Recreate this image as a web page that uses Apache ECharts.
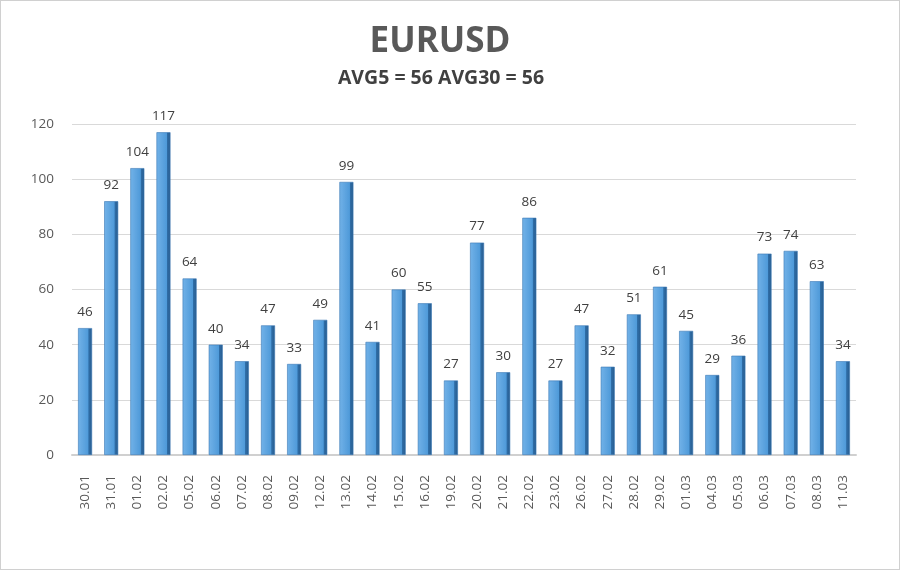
<!DOCTYPE html>
<html>
<head>
<meta charset="utf-8">
<script src="https://cdn.jsdelivr.net/npm/echarts@6/dist/echarts.min.js"></script>
<style>
html,body{margin:0;padding:0;background:#fff;}
#c{width:898px;height:568px;border:1px solid #d0d0d0;}
</style>
</head>
<body>
<div id="c"></div>
<script>
const categories = ['30.01','31.01','01.02','02.02','05.02','06.02','07.02','08.02','09.02','12.02','13.02','14.02','15.02','16.02','19.02','20.02','21.02','22.02','23.02','26.02','27.02','28.02','29.02','01.03','04.03','05.03','06.03','07.03','08.03','11.03'];
const values = [46,92,104,117,64,40,34,47,33,49,99,41,60,55,27,77,30,86,27,47,32,51,61,45,29,36,73,74,63,34];
const titleText = 'EURUSD';
const subtitleText = 'AVG5 = 56 AVG30 = 56';

const chart = echarts.init(document.getElementById('c'));
chart.setOption({
  backgroundColor: '#fff',
  animation: false,
  title: [{
    text: titleText,
    left: 434,
    textAlign: 'center',
    top: 19,
    textStyle: {fontFamily: 'Open Sans', fontSize: 35, fontWeight: 'bold', color: '#595959'}
  }, {
    text: subtitleText,
    left: 435,
    textAlign: 'center',
    top: 62,
    textStyle: {fontFamily: 'Open Sans', fontSize: 19.5, fontWeight: 'bold', color: '#404040'}
  }],
  grid: {left: 71, right: 43, top: 123, bottom: 114},
  xAxis: {
    type: 'category',
    data: categories,
    axisTick: {show: false},
    axisLine: {lineStyle: {color: '#d0d0d0', width: 2}},
    axisLabel: {rotate: 90, margin: 20, fontFamily: 'Open Sans', fontSize: 13.5, color: '#595959'}
  },
  yAxis: {
    type: 'value',
    min: 0, max: 120, interval: 20,
    axisLine: {show: false},
    axisTick: {show: false},
    splitLine: {lineStyle: {color: '#d9d9d9'}},
    axisLabel: {margin: 18, fontFamily: 'Open Sans', fontSize: 13.5, color: '#595959'}
  },
  series: [{
    type: 'bar',
    data: values,
    barWidth: 14,
    itemStyle: {
      color: new echarts.graphic.LinearGradient(0, 0, 1, 0, [
        {offset: 0, color: '#72b2e8'},
        {offset: 0.72, color: '#4f9ad9'},
        {offset: 0.76, color: '#2f6ea8'},
        {offset: 1, color: '#285b8c'}
      ]),
      borderColor: '#3a78b5',
      borderWidth: 0.6
    },
    label: {show: true, position: 'top', distance: 9, fontFamily: 'Open Sans', fontSize: 13.5, color: '#404040'}
  }]
});
</script>
</body>
</html>
